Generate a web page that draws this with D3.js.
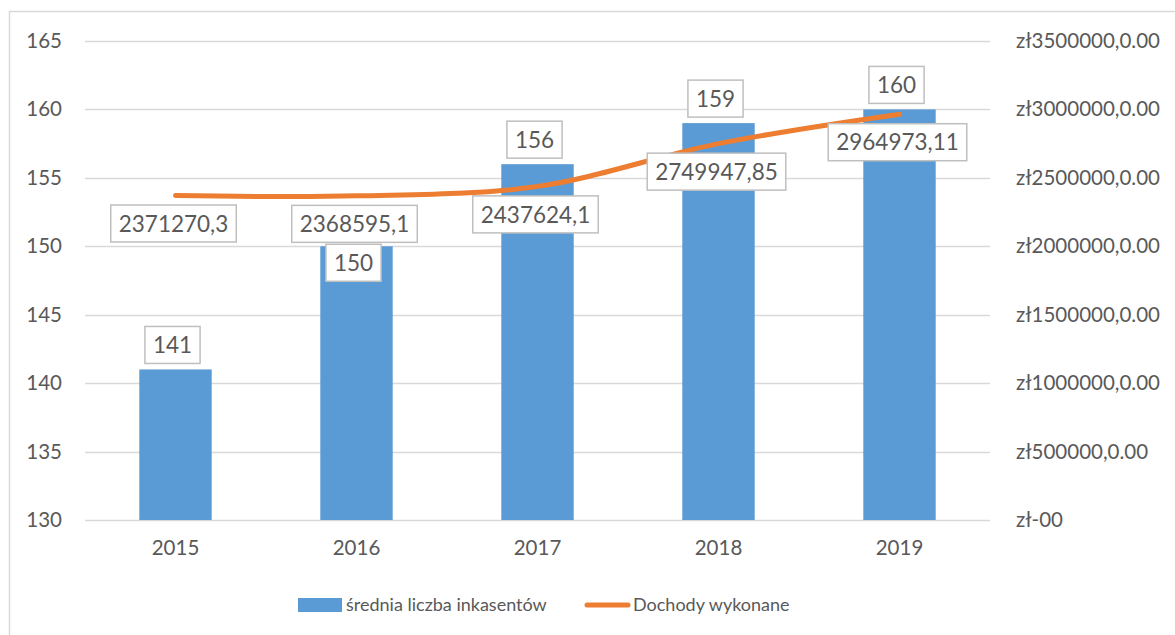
<!DOCTYPE html>
<html>
<head>
<meta charset="utf-8">
<script src="https://cdn.jsdelivr.net/npm/d3@7"></script>
<style>
  html, body { margin: 0; padding: 0; background: #fff; }
  svg { display: block; font-family: Lato, "Open Sans", sans-serif; }
</style>
</head>
<body>
<svg id="chart" width="1175" height="635"></svg>
<script>
// ---- data ----
const years = ["2015", "2016", "2017", "2018", "2019"];
const inkasenci = [141, 150, 156, 159, 160];
const dochody = [2371270.3, 2368595.1, 2437624.1, 2749947.85, 2964973.11];
const leftTicks = [130, 135, 140, 145, 150, 155, 160, 165];
const rightTicks = [0, 500000, 1000000, 1500000, 2000000, 2500000, 3000000, 3500000];
const seriesNames = ["średnia liczba inkasentów", "Dochody wykonane"];

// ---- layout ----
const W = 1175, H = 635;
const plot = { left: 85, right: 990, top: 41, bottom: 520 };
const barColor = "#5B9BD5", lineColor = "#ED7D31";
const textColor = "#595959", gridColor = "#D9D9D9", boxStroke = "#BFBFBF";
const tickFont = 20.5, labelFont = 22.5, legendFont = 18;

const svg = d3.select("#chart");

// chart border
svg.append("rect")
  .attr("x", 9.5).attr("y", 11.5)
  .attr("width", W + 20).attr("height", H + 20)
  .attr("fill", "none").attr("stroke", gridColor).attr("stroke-width", 1.5);

const x = d3.scaleBand().domain(years).range([plot.left, plot.right]).padding(0);
const yL = d3.scaleLinear().domain([130, 165]).range([plot.bottom, plot.top]);
const yR = d3.scaleLinear().domain([0, 3500000]).range([plot.bottom, plot.top]);
const cx = d => x(d) + x.bandwidth() / 2;
const barW = x.bandwidth() * 0.4;

// gridlines
svg.append("g").selectAll("line").data(leftTicks).join("line")
  .attr("x1", plot.left).attr("x2", plot.right)
  .attr("y1", d => Math.round(yL(d)) + 0.5).attr("y2", d => Math.round(yL(d)) + 0.5)
  .attr("stroke", gridColor).attr("stroke-width", 1.3);

function styleAxis(g) {
  g.select(".domain").remove();
  g.selectAll(".tick line").remove();
  g.selectAll("text").attr("fill", textColor).attr("font-size", tickFont).attr("font-family", "Lato");
}

// left axis
const gL = svg.append("g").attr("transform", `translate(62,0)`)
  .call(d3.axisLeft(yL).tickValues(leftTicks).tickSize(0).tickPadding(0));
styleAxis(gL);
gL.selectAll("text").attr("x", 0).attr("text-anchor", "end");

// right axis
const fmtR = v => v === 0 ? "zł-00" : "zł" + v + ",0.00";
const gR = svg.append("g").attr("transform", `translate(1016,0)`)
  .call(d3.axisRight(yR).tickValues(rightTicks).tickFormat(fmtR).tickSize(0).tickPadding(0));
styleAxis(gR);

// bottom axis
const gB = svg.append("g").attr("transform", `translate(0,${plot.bottom + 20})`)
  .call(d3.axisBottom(x).tickSize(0).tickPadding(0));
styleAxis(gB);

// bars
const data = years.map((y, i) => ({ year: y, bar: inkasenci[i], line: dochody[i] }));
svg.append("g").selectAll("rect").data(data).join("rect")
  .attr("x", d => cx(d.year) - barW / 2)
  .attr("width", barW)
  .attr("y", d => yL(d.bar))
  .attr("height", d => yL(130) - yL(d.bar))
  .attr("fill", barColor);

// line
const line = d3.line()
  .x(d => cx(d.year))
  .y(d => yR(d.line))
  .curve(d3.curveCatmullRom.alpha(0.5));
svg.append("path").datum(data)
  .attr("d", line)
  .attr("fill", "none").attr("stroke", lineColor)
  .attr("stroke-width", 5).attr("stroke-linecap", "round").attr("stroke-linejoin", "round");

// labels
const labelLayer = svg.append("g");
const boxH = 37;
function makeLabel(text, cxPos, cyPos) {
  const g = labelLayer.append("g");
  const rect = g.append("rect").attr("fill", "#fff").attr("stroke", boxStroke).attr("stroke-width", 1.5);
  const t = g.append("text").text(text)
    .attr("font-size", labelFont).attr("font-family", "Lato").attr("fill", textColor)
    .attr("text-anchor", "middle").attr("dy", "0.36em");
  const w = t.node().getComputedTextLength() + 16;
  let px = cxPos;
  if (px - w / 2 < 98) px = 98 + w / 2;
  rect.attr("x", -w / 2).attr("y", -boxH / 2).attr("width", w).attr("height", boxH);
  g.attr("transform", `translate(${px},${cyPos})`);
}
const fmtL = v => String(v).replace(".", ",");

// line labels sit below their points
const lineBoxY = data.map(d => yR(d.line) + 28);

data.forEach((d, i) => {
  const bx = cx(d.year), top = yL(d.bar);
  let cy = top - 6 - boxH / 2;
  if (Math.abs(cy - lineBoxY[i]) < boxH) cy = top - 2 + boxH / 2;
  makeLabel(String(d.bar), bx - 3, cy);
});
data.forEach((d, i) => {
  makeLabel(fmtL(d.line), cx(d.year) - 2, lineBoxY[i]);
});

// legend
const leg = svg.append("g");
leg.append("rect").attr("x", 298).attr("y", 598).attr("width", 44).attr("height", 14).attr("fill", barColor);
leg.append("text").attr("x", 346).attr("y", 605).attr("dy", "0.36em")
  .attr("font-size", legendFont).attr("font-family", "Lato").attr("fill", textColor).text(seriesNames[0]);
leg.append("line").attr("x1", 587).attr("x2", 628).attr("y1", 605).attr("y2", 605)
  .attr("stroke", lineColor).attr("stroke-width", 5).attr("stroke-linecap", "round");
leg.append("text").attr("x", 633).attr("y", 605).attr("dy", "0.36em")
  .attr("font-size", legendFont).attr("font-family", "Lato").attr("fill", textColor).text(seriesNames[1]);
</script>
</body>
</html>
